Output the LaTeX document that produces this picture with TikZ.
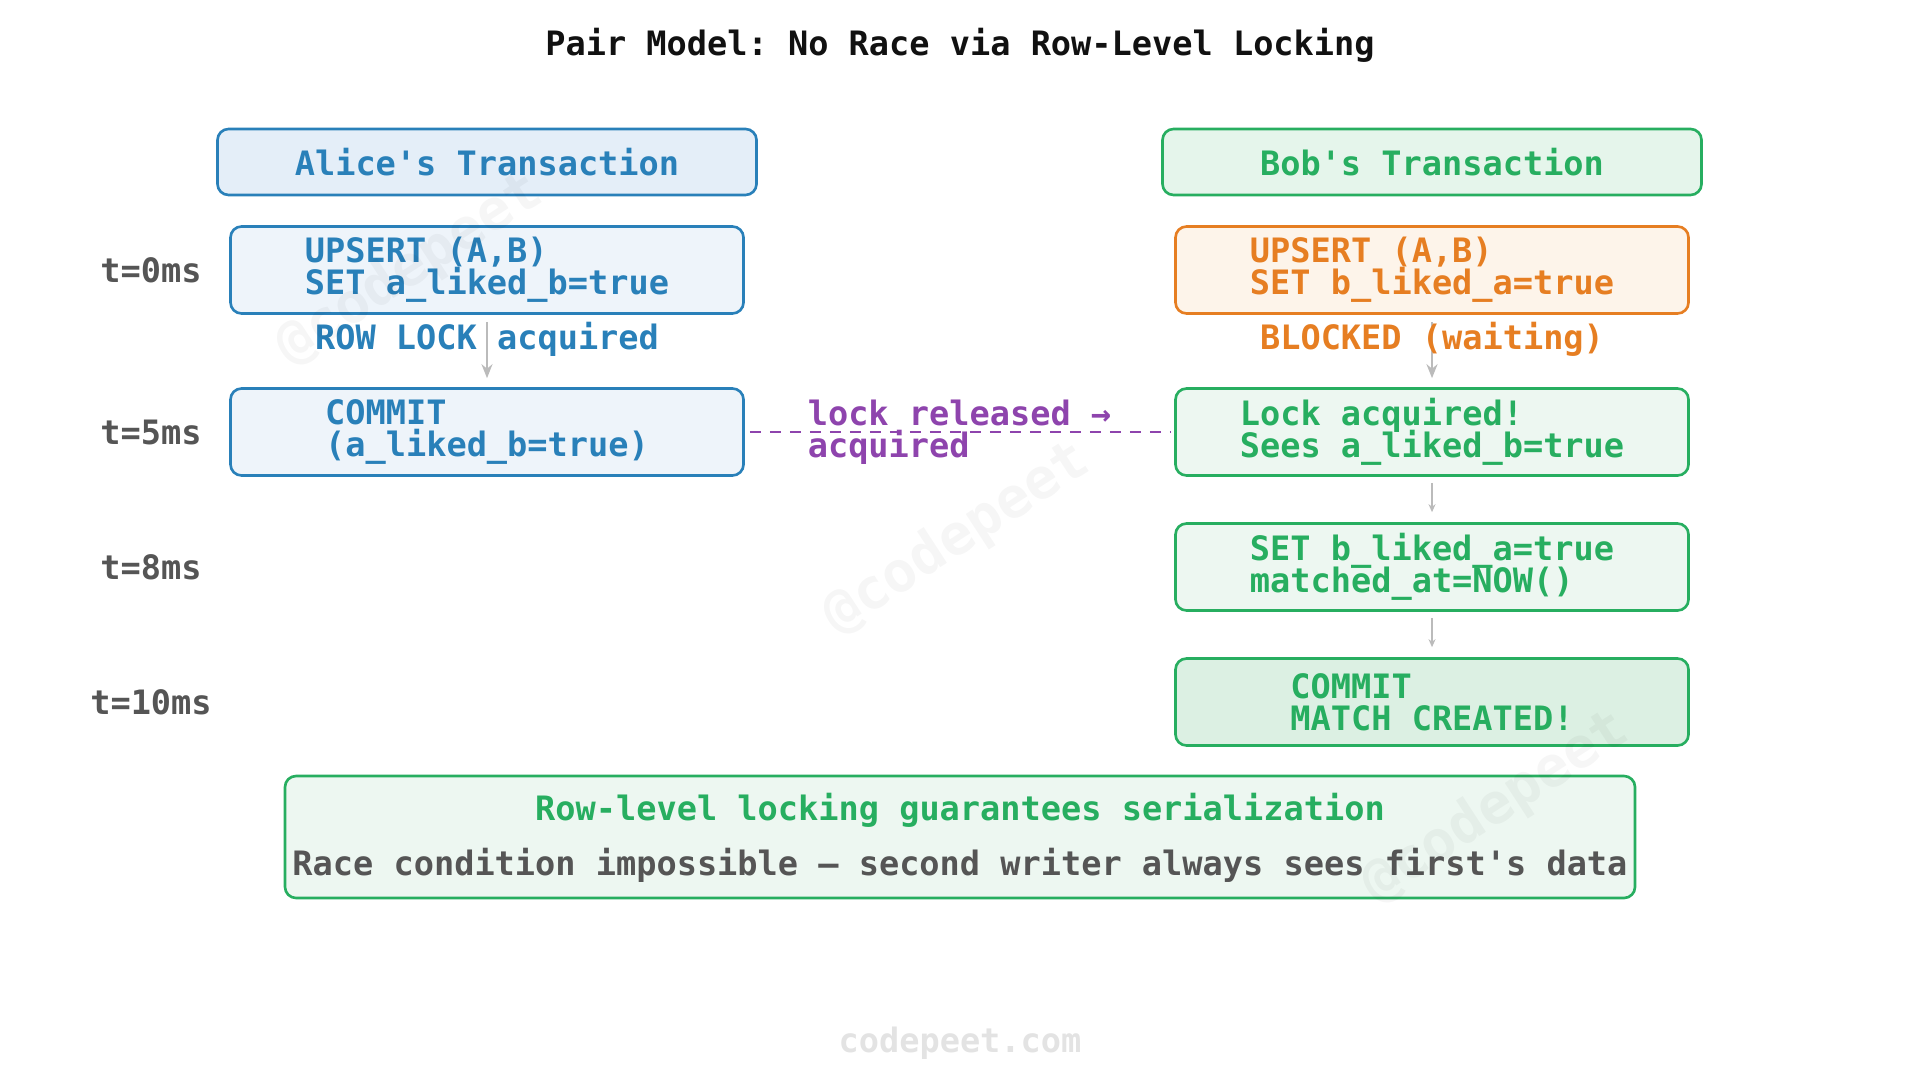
\documentclass[tikz,border=0pt]{standalone}
\usepackage{fontspec}
\setmonofont{DejaVu Sans Mono}
\usetikzlibrary{arrows.meta,positioning}
\definecolor{PairInk}{HTML}{111111}
\definecolor{PairBlue}{HTML}{2980B9}
\definecolor{PairBlueFill}{HTML}{E4EEF8}
\definecolor{PairBlueSoft}{HTML}{EEF4FA}
\definecolor{PairGreen}{HTML}{27AE60}
\definecolor{PairGreenFill}{HTML}{E5F5EB}
\definecolor{PairGreenSoft}{HTML}{EDF7F1}
\definecolor{PairGreenDeep}{HTML}{DCF0E3}
\definecolor{PairOrange}{HTML}{E67E22}
\definecolor{PairOrangeFill}{HTML}{FDF4EA}
\definecolor{PairPurple}{HTML}{8E44AD}
\definecolor{PairGrey}{HTML}{555555}
\definecolor{PairRule}{HTML}{BBBBBB}
\definecolor{PairMark}{HTML}{E3E3E3}
\newcommand\pairtight{\lineskiplimit=-10pt\relax}
\tikzset{
  pair/font/.style={
    font={\ttfamily\fontsize{9.56}{9.1}\selectfont\bfseries\pairtight}
  },
  pair/box/.style={
    pair/font, rounded corners=1.1mm, line width=.75pt,
    align=left, inner sep=0pt
  },
  pair/head/.style={pair/box, minimum width=5.39cm, minimum height=.66cm},
  pair/step/.style={pair/box, minimum width=5.13cm, minimum height=.87cm},
  pair/alice/.style={draw=PairBlue, text=PairBlue, fill=PairBlueSoft},
  pair/bob/.style={draw=PairGreen, text=PairGreen, fill=PairGreenSoft},
  pair/wait/.style={draw=PairOrange, text=PairOrange, fill=PairOrangeFill},
  pair/time/.style={pair/font, text=PairGrey},
  pair/arrow/.style={
    -{Stealth[length=1.4mm,width=1.1mm]}, line width=.6pt, draw=PairRule,
    shorten <=.7mm, shorten >=.9mm
  },
  pair/tick/.style={
    -{Stealth[length=.8mm,width=.7mm]}, line width=.4pt, draw=PairRule,
    shorten <=.6mm, shorten >=1mm
  },
  pair/handoff/.style={
    draw=PairPurple, line width=.7pt, dash pattern=on 1.1mm off .9mm,
    shorten <=.5mm, shorten >=.3mm
  },
  pair/mark/.style={font=\ttfamily\fontsize{16}{16}\selectfont\bfseries,
    text=black, text opacity=.035, rotate=33}
}
\begin{document}
\begin{tikzpicture}
  \useasboundingbox (0,0) rectangle (19.2,-10.8);
  \node[pair/font,text=PairInk] (title) at (9.6,-.45)
    {Pair Model: No Race via Row-Level Locking};
  % lanes
  \node[pair/head,pair/alice,fill=PairBlueFill] (aliceHead) at (4.87,-1.62)
    {Alice's Transaction};
  \node[pair/head,pair/bob,fill=PairGreenFill] (bobHead) at (14.32,-1.62)
    {Bob's Transaction};
  \foreach \y/\t in {-2.70/t=0ms,-4.32/t=5ms,-5.67/t=8ms,-7.02/t=10ms}
    \node[pair/time] at (1.51,\y) {\t};
  \node[pair/step,pair/alice] (a0) at (4.87,-2.70)
    {UPSERT (A,B)\\SET a\_liked\_b=true};
  \node[pair/step,pair/alice] (a5) at (4.87,-4.32)
    {COMMIT\\(a\_liked\_b=true)};
  \node[pair/step,pair/wait] (b0) at (14.32,-2.70)
    {UPSERT (A,B)\\SET b\_liked\_a=true};
  \node[pair/step,pair/bob] (b5) at (14.32,-4.32)
    {Lock acquired!\\Sees a\_liked\_b=true};
  \node[pair/step,pair/bob] (b8) at (14.32,-5.67)
    {SET b\_liked\_a=true\\matched\_at=NOW()};
  \node[pair/step,pair/bob,fill=PairGreenDeep] (b10) at (14.32,-7.02)
    {COMMIT\\MATCH CREATED!};
  % flow
  \draw[pair/arrow] (a0) -- (a5);
  \draw[pair/arrow] (b0) -- (b5);
  \draw[pair/tick] (b5) -- (b8);
  \draw[pair/tick] (b8) -- (b10);
  \node[pair/font,text=PairBlue] (aLock) at (4.87,-3.39) {ROW LOCK acquired};
  \node[pair/font,text=PairOrange] (bWait) at (14.32,-3.39) {BLOCKED (waiting)};
  \draw[pair/handoff] (a5) -- (b5)
    node[midway,pair/font,align=left,text=PairPurple] (handoff)
    {lock released →\\acquired};
  % summary
  \node[pair/box,draw=PairGreen,fill=PairGreenSoft,minimum width=13.5cm,
    minimum height=1.22cm] (note) at (9.6,-8.37) {};
  \node[pair/font,text=PairGreen] (noteHead) at ([yshift=2.7mm]note.center)
    {Row-level locking guarantees serialization};
  \node[pair/font,text=PairGrey] (noteText) at ([yshift=-2.8mm]note.center)
    {Race condition impossible — second writer always sees first's data};
  \node[pair/font,text=PairMark] (footer) at (9.6,-10.43) {codepeet.com};
  % watermarks
  \node[pair/mark] (markA) at (4.10,-2.70) {@codepeet};
  \node[pair/mark] (markB) at (9.57,-5.39) {@codepeet};
  \node[pair/mark] (markC) at (14.96,-8.08) {@codepeet};
\end{tikzpicture}
\end{document}
